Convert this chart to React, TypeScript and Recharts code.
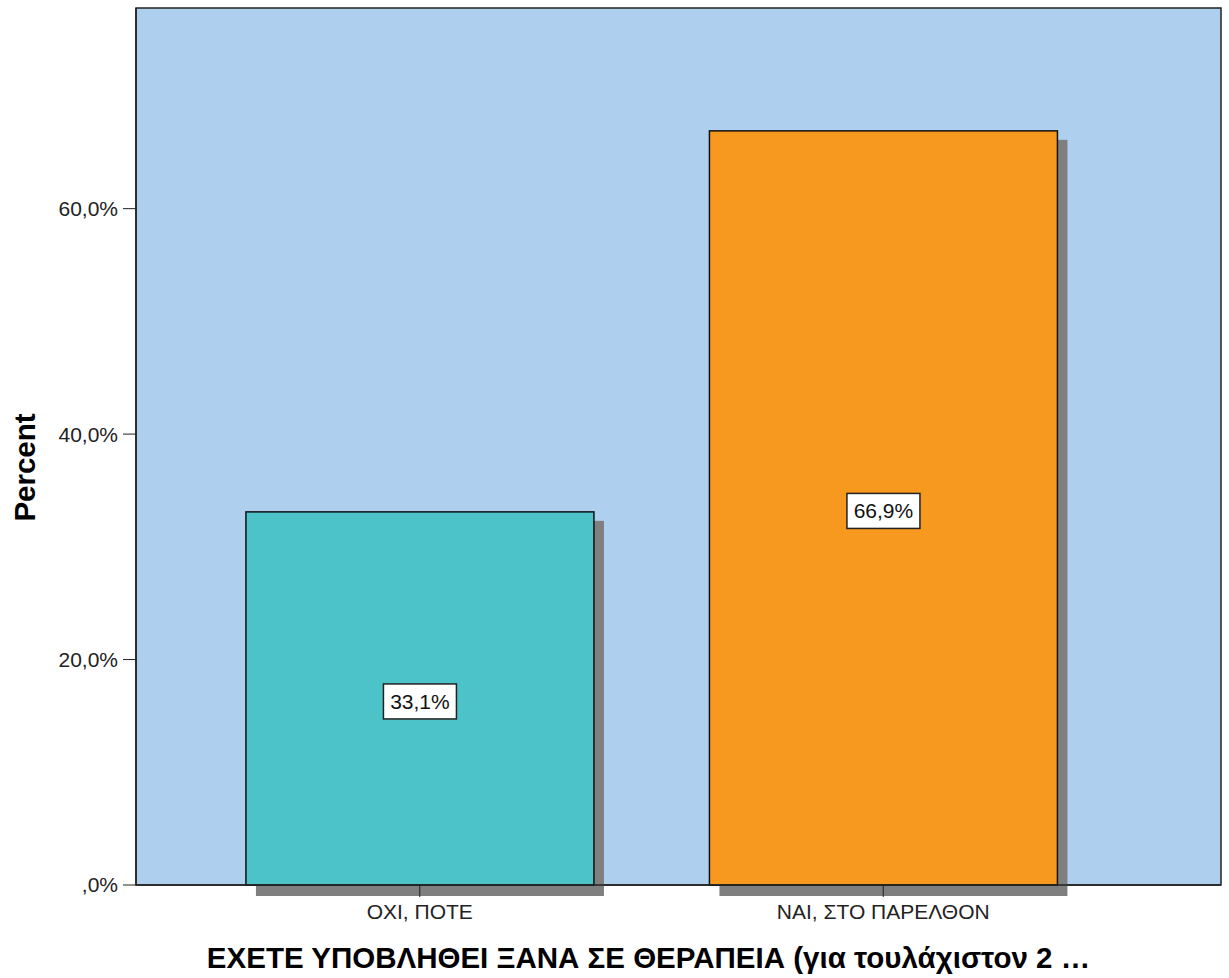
import { Bar, BarChart, CartesianGrid, Cell, LabelList, XAxis, YAxis, usePlotArea } from "recharts";

// Values
const categories = ["ΟΧΙ, ΠΟΤΕ", "ΝΑΙ, ΣΤΟ ΠΑΡΕΛΘΟΝ"];
const percents = [33.1, 66.9];
const barColors = ["#4BC3C8", "#F7991E"];
const yTicks = [0, 20, 40, 60];
const yMax = 77.8;
const xTitle = "ΕΧΕΤΕ ΥΠΟΒΛΗΘΕΙ ΞΑΝΑ ΣΕ ΘΕΡΑΠΕΙΑ (για τουλάχιστον 2 …";
const yTitle = "Percent";

const FONT = '"Liberation Sans", Arial, sans-serif';

const rows = categories.map((name, i) => ({ name, value: percents[i] }));

// SPSS style: ",0%" for zero, comma decimal
function fmtPct(v: number): string {
  if (v === 0) return ",0%";
  return v.toFixed(1).replace(".", ",") + "%";
}

function ShadowBar(props: any) {
  const { x, y, width, height, fill } = props;
  if (width == null || height == null) return null;
  return (
    <g>
      <rect x={x + 10} y={y + 9} width={width} height={height + 2} fill="#7f7f7f" />
      <rect x={x} y={y} width={width} height={height} fill={fill} stroke="#111" strokeWidth={1.5} />
    </g>
  );
}

function ValueBox(props: any) {
  const { x, y, width, height, value } = props;
  const cx = x + width / 2;
  const cy = y + height / 2 + 3;
  const w = 73;
  const h = 35;
  return (
    <g>
      <rect x={cx - w / 2} y={cy - h / 2} width={w} height={h} fill="#fff" stroke="#222" strokeWidth={1.5} />
      <text x={cx} y={cy + 7.5} textAnchor="middle" fontFamily={FONT} fontSize={21} fill="#111">
        {fmtPct(Number(value))}
      </text>
    </g>
  );
}

function PlotFrame() {
  const area = usePlotArea();
  if (!area) return null;
  return (
    <rect x={area.x} y={area.y} width={area.width} height={area.height} fill="none" stroke="#222" strokeWidth={1.5} />
  );
}

function YTitle(props: any) {
  const vb = props.viewBox || {};
  const cx = 35;
  const cy = (vb.y ?? 0) + (vb.height ?? 0) / 2 + 21;
  return (
    <text
      x={cx}
      y={cy}
      transform={`rotate(-90 ${cx} ${cy})`}
      textAnchor="middle"
      fontFamily={FONT}
      fontWeight="bold"
      fontSize={29.5}
      fill="#000"
    >
      {yTitle}
    </text>
  );
}

function XTitle(props: any) {
  const vb = props.viewBox || {};
  const cx = (vb.x ?? 0) + (vb.width ?? 0) / 2 - 30;
  return (
    <text x={cx} y={968} textAnchor="middle" fontFamily={FONT} fontWeight="bold" fontSize={29.5} fill="#000">
      {xTitle}
    </text>
  );
}

export default function App() {
  return (
    <div style={{ position: "absolute", left: 0, top: 0, width: 1229, height: 978, background: "#fff" }}>
      <BarChart
        width={1229}
        height={978}
        data={rows}
        margin={{ top: 8, right: 8, bottom: 0, left: 0 }}
        barCategoryGap="12.5%"
      >
        <CartesianGrid fill="#AECFEE" horizontal={false} vertical={false} />
        <XAxis
          dataKey="name"
          height={93}
          padding={{ left: 52, right: 106 }}
          tickSize={12}
          tickMargin={7}
          axisLine={{ stroke: "#222", strokeWidth: 1.5 }}
          tickLine={{ stroke: "#222" }}
          tick={{ fill: "#222", fontSize: 21, fontFamily: FONT }}
          label={{ content: <XTitle /> }}
        />
        <YAxis
          width={136}
          domain={[0, yMax]}
          ticks={yTicks}
          tickFormatter={fmtPct}
          tickSize={13}
          tickMargin={5}
          axisLine={{ stroke: "#222", strokeWidth: 1.5 }}
          tickLine={{ stroke: "#222" }}
          tick={{ fill: "#222", fontSize: 21, fontFamily: FONT }}
          label={{ content: <YTitle /> }}
        />
        <Bar dataKey="value" shape={<ShadowBar />} isAnimationActive={false}>
          {rows.map((r, i) => (
            <Cell key={r.name} fill={barColors[i]} />
          ))}
          <LabelList dataKey="value" content={<ValueBox />} />
        </Bar>
        <PlotFrame />
      </BarChart>
    </div>
  );
}
